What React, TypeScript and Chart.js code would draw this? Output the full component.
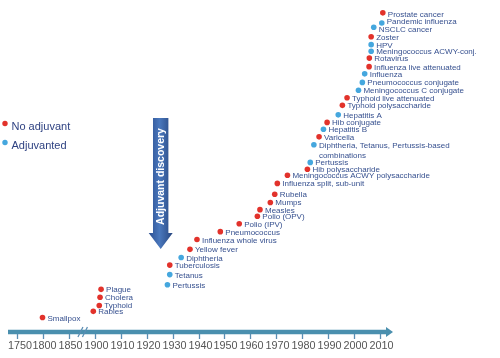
import React, { useEffect, useRef } from "react";
import { Chart, registerables } from "chart.js";

Chart.register(...registerables);

// ---- data ----
const vaccineNames: string[] = [
  "Smallpox", "Rabies", "Typhoid", "Cholera", "Plague",
  "Pertussis", "Tetanus", "Tuberculosis", "Diphtheria", "Yellow fever",
  "Influenza whole virus", "Pneumococcus", "Polio (IPV)", "Polio (OPV)", "Measles",
  "Mumps", "Rubella", "Influenza split, sub-unit", "Meningococcus ACWY polysaccharide", "Hib polysaccharide",
  "Pertussis", "Diphtheria, Tetanus, Pertussis-based|combinations", "Varicella", "Hepatitis B", "Hib conjugate",
  "Hepatitis A", "Typhoid polysaccharide", "Typhoid live attenuated", "Meningococcus C conjugate", "Pneumococcus conjugate",
  "Influenza", "Influenza live attenuated", "Rotavirus", "Meningococcus ACWY-conj.", "HPV",
  "Zoster", "NSCLC cancer", "Pandemic influenza", "Prostate cancer",
];
const vaccineYears: number[] = [
  1799, 1897, 1901.7, 1902, 1902.4,
  1928, 1928.9, 1928.9, 1933.3, 1936.7,
  1939.4, 1948.4, 1955.7, 1962.7, 1963.7,
  1967.7, 1969.4, 1970.4, 1974.3, 1982,
  1983.1, 1984.5, 1986.5, 1988.2, 1989.6,
  1993.9, 1995.5, 1997.3, 2001.7, 2003.2,
  2004.1, 2005.8, 2005.9, 2006.6, 2006.6,
  2006.6, 2007.6, 2010.7, 2011.1,
];
const vaccineLevels: number[] = [
  4.4, 6.3, 8.1, 10.6, 13.0,
  14.4, 17.5, 20.4, 22.7, 25.2,
  28.2, 30.6, 33.0, 35.3, 37.3,
  39.5, 42.0, 45.3, 47.8, 49.6,
  51.7, 57.1, 59.5, 61.8, 63.9,
  66.2, 69.1, 71.4, 73.7, 76.1,
  78.7, 80.9, 83.5, 85.6, 87.6,
  90.0, 92.9, 94.2, 97.3,
];
const isAdjuvanted: boolean[] = [
  false, false, false, false, false,
  true, true, false, true, false,
  false, false, false, false, false,
  false, false, false, false, false,
  true, true, false, true, false,
  true, false, false, true, true,
  true, false, false, true, true,
  false, true, true, false,
];
const tickYears: number[] = [1750, 1800, 1850, 1900, 1910, 1920, 1930, 1940, 1950, 1960, 1970, 1980, 1990, 2000, 2010];
const legendLabels: string[] = ["No adjuvant", "Adjuvanted"];
const adjuvantDiscoveryYear = 1925.4;
const axisBreakYear = 1877;

// small label nudges (px) to keep crowded labels apart, keyed by name
const labelNudge: Record<string, number> = { "Pandemic influenza": -2, "NSCLC cancer": 2.2, "Prostate cancer": 0.8 };

const RED = "#e2322b";
const BLUE = "#45a7de";
const LABEL_COLOR = "#36508f";
const AXIS_COLOR = "#4a8fae";

// compressed axis: 50-year steps before 1900, 10-year steps after
function axisPos(year: number): number {
  return year < 1900 ? (year - 1750) / 50 : 3 + (year - 1900) / 10;
}

export default function App() {
  const ref = useRef<HTMLCanvasElement | null>(null);

  useEffect(() => {
    const canvas = ref.current;
    if (!canvas) return;

    const idx = vaccineNames.map((_, i) => i);
    const mk = (adj: boolean) =>
      idx
        .filter((i) => isAdjuvanted[i] === adj)
        .map((i) => ({ x: axisPos(vaccineYears[i]), y: vaccineLevels[i], label: vaccineNames[i] }));

    const decorPlugin = {
      id: "decor",
      beforeDatasetsDraw(chart: any) {
        const ctx = chart.ctx as CanvasRenderingContext2D;
        const xs = chart.scales.x;
        const area = chart.chartArea;
        ctx.save();
        // arrow "Adjuvant discovery"
        const cx = xs.getPixelForValue(axisPos(adjuvantDiscoveryYear));
        const top = 118, headStart = 233, tip = 249, sw = 7.7, hw = 12;
        const g = ctx.createLinearGradient(cx - hw, 0, cx + hw, 0);
        g.addColorStop(0, "#2c4f91");
        g.addColorStop(0.45, "#4a78bd");
        g.addColorStop(1, "#27467f");
        ctx.fillStyle = g;
        ctx.beginPath();
        ctx.moveTo(cx - sw, top);
        ctx.lineTo(cx + sw, top);
        ctx.lineTo(cx + sw, headStart);
        ctx.lineTo(cx + hw, headStart);
        ctx.lineTo(cx, tip);
        ctx.lineTo(cx - hw, headStart);
        ctx.lineTo(cx - sw, headStart);
        ctx.closePath();
        ctx.fill();
        ctx.translate(cx + 0.5, (top + headStart) / 2 + 1);
        ctx.rotate(-Math.PI / 2);
        ctx.fillStyle = "#ffffff";
        ctx.font = "bold 10.5px 'Liberation Sans', Arial, sans-serif";
        ctx.textAlign = "center";
        ctx.textBaseline = "middle";
        ctx.fillText("Adjuvant discovery", 0, 0);
        ctx.restore();

        // time axis
        ctx.save();
        const y0 = area.bottom;
        const left = area.left;
        const right = area.right;
        ctx.strokeStyle = AXIS_COLOR;
        ctx.lineWidth = 4.5;
        ctx.beginPath();
        ctx.moveTo(left, y0);
        ctx.lineTo(right - 5, y0);
        ctx.stroke();
        ctx.fillStyle = AXIS_COLOR;
        ctx.beginPath();
        ctx.moveTo(right - 6, y0 - 5);
        ctx.lineTo(right + 1, y0);
        ctx.lineTo(right - 6, y0 + 5);
        ctx.closePath();
        ctx.fill();
        // ticks & labels
        ctx.strokeStyle = "#5b8db3";
        ctx.lineWidth = 1.3;
        ctx.fillStyle = "#555555";
        ctx.font = "10.8px 'Liberation Sans', Arial, sans-serif";
        ctx.textAlign = "center";
        ctx.textBaseline = "middle";
        tickYears.forEach((t, i) => {
          const px = Math.round(xs.getPixelForValue(axisPos(t))) + 0.5;
          ctx.beginPath();
          ctx.moveTo(px, y0 + 2);
          ctx.lineTo(px, y0 + 7);
          ctx.stroke();
          ctx.fillText(String(t), px + (i === 0 ? 2.5 : 1), y0 + 14);
        });
        // axis break
        const bx = xs.getPixelForValue(axisPos(axisBreakYear));
        ctx.strokeStyle = "#5b8db3";
        ctx.lineWidth = 1.2;
        [-2.5, 2].forEach((d) => {
          ctx.beginPath();
          ctx.moveTo(bx + d - 2.5, y0 + 5);
          ctx.lineTo(bx + d + 2.5, y0 - 5);
          ctx.stroke();
        });
        ctx.restore();

        // legend
        ctx.save();
        ctx.font = "11px 'Liberation Sans', Arial, sans-serif";
        ctx.textBaseline = "middle";
        ctx.textAlign = "left";
        const legendColors = [RED, BLUE];
        const legendY = [123.5, 142.5];
        legendLabels.forEach((lab, i) => {
          ctx.fillStyle = legendColors[i];
          ctx.beginPath();
          ctx.arc(5, legendY[i], 2.7, 0, Math.PI * 2);
          ctx.fill();
          ctx.fillStyle = "#2f4282";
          ctx.fillText(lab, 11.5, legendY[i] + 3.5);
        });
        ctx.restore();
      },
      afterDatasetsDraw(chart: any) {
        const ctx = chart.ctx as CanvasRenderingContext2D;
        ctx.save();
        ctx.font = "8px 'Liberation Sans', Arial, sans-serif";
        ctx.fillStyle = LABEL_COLOR;
        ctx.textAlign = "left";
        ctx.textBaseline = "middle";
        chart.data.datasets.forEach((ds: any, di: number) => {
          const meta = chart.getDatasetMeta(di);
          meta.data.forEach((pt: any, j: number) => {
            const name = String(ds.data[j].label);
            const dy = labelNudge[name] || 0;
            const lines = name.split("|");
            lines.forEach((ln: string, k: number) => {
              ctx.fillText(ln, pt.x + 5, pt.y + 0.8 + dy + k * 10);
            });
          });
        });
        ctx.restore();
      },
    };

    const chart = new Chart(canvas, {
      type: "scatter",
      data: {
        datasets: [
          { label: legendLabels[0], data: mk(false), backgroundColor: RED, pointRadius: 2.8, borderWidth: 0, clip: false } as any,
          { label: legendLabels[1], data: mk(true), backgroundColor: BLUE, pointRadius: 2.8, borderWidth: 0, clip: false } as any,
        ],
      },
      options: {
        responsive: false,
        animation: false,
        events: [],
        layout: { padding: { left: 8, right: 108, top: 0, bottom: 26 } },
        scales: {
          x: { type: "linear", min: -0.351, max: 14.464, display: false },
          y: { type: "linear", min: 0, max: 100, display: false },
        },
        plugins: { legend: { display: false }, tooltip: { enabled: false } },
      },
      plugins: [decorPlugin],
    });
    return () => chart.destroy();
  }, []);

  return (
    <div style={{ position: "absolute", left: 0, top: 0, width: 500, height: 358, background: "#fff" }}>
      <canvas ref={ref} width={500} height={358} style={{ width: 500, height: 358, display: "block" }} />
    </div>
  );
}
